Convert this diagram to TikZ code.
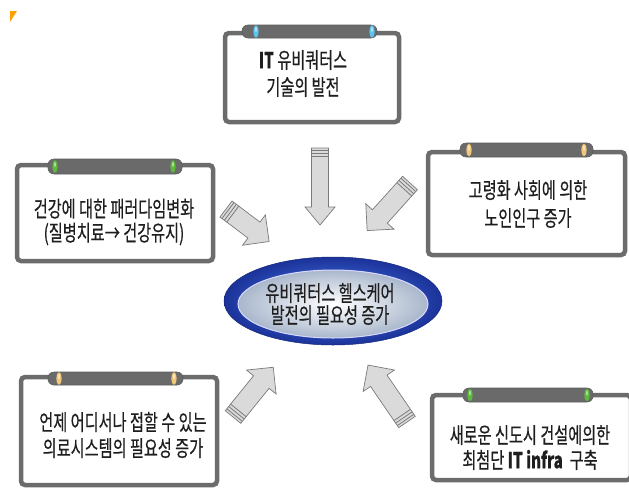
\documentclass[tikz,border=0pt]{standalone}
\usepackage{fontspec}
\newfontfamily\kr[FakeStretch=0.69,FakeBold=0.4]{Noto Sans CJK KR}
\usetikzlibrary{calc,shapes.geometric}
\definecolor{boxgray}{HTML}{6C6C6C}
\definecolor{tabgray}{HTML}{6A6A6A}
\definecolor{capblue}{HTML}{5EC4EE}
\definecolor{capgreen}{HTML}{5DBA3B}
\definecolor{captan}{HTML}{F2C77A}
\definecolor{arrowfill}{HTML}{DADADA}
\definecolor{arrowline}{HTML}{7A7A7A}
\definecolor{ringlight}{HTML}{4F80F2}
\definecolor{ringdark}{HTML}{1B339A}
\definecolor{corelight}{HTML}{FFFFFF}
\definecolor{coredark}{HTML}{A9B7CC}
\definecolor{txt}{HTML}{1E1E1E}
\newcommand\barrow[6]{%
  \begin{scope}[shift={(#1)}, rotate=#2]
    \draw[blockarrow] (0,-#4) -- ({#3-#6},-#4) -- ({#3-#6},-#5) -- (#3,0)
      -- ({#3-#6},#5) -- ({#3-#6},#4) -- (0,#4) -- cycle;
    \foreach \s in {2.5,5.5,8.5} \draw[stripe] (\s,-#4) -- (\s,#4);
  \end{scope}}
\begin{document}
\begin{tikzpicture}[x=1pt,y=-1pt,
  panel/.style={draw=boxgray, line width=4.5pt, rounded corners=4pt, fill=white},
  tabbar/.style={fill=tabgray, draw=boxgray!85!black, line width=0.6pt, rounded corners=6pt},
  label/.style={font=\kr\fontsize{22}{#1}\selectfont, align=center, text=txt, inner sep=0pt},
  blockarrow/.style={fill=arrowfill, draw=arrowline, line width=0.7pt, line join=miter},
  stripe/.style={draw=arrowline, line width=0.8pt}]
\useasboundingbox (0,0) rectangle (629,491);
\fill[orange!75!yellow] (10,11) -- (17,11) -- (10,22) -- cycle;

% panels: name / x1 / y1 / x2 / y2 / tab x1 / tab x2 / tab y1 / tab y2 / cap1 / cap2 / colour
\foreach \n/\a/\b/\c/\d/\e/\f/\g/\h/\p/\q/\col in {
  ptop/225/33/399/122/242/377/25/38/256/372/capblue,
  pleft/17/165/213/261/48/182/159/174/55/173/capgreen,
  pright/428/152/625/255/460/593/143/157/469/584/captan,
  pbl/21/377/217/485/48/183/372/385/59/174/captan,
  pbr/432/395/631/480/463/593/388/402/470/587/capgreen} {
  \draw[panel] (\a,\b) rectangle (\c,\d);
  \node[inner sep=0pt] (\n) at ({(\a+\c)/2},{(\b+\d)/2}) {};
  \draw[tabbar] (\e,\g) rectangle (\f,\h);
  \fill[\col] (\p,{(\g+\h)/2}) ellipse (2.6 and 6.3);
  \fill[\col] (\q,{(\g+\h)/2}) ellipse (2.6 and 6.3);
  \fill[white, opacity=0.5] (\p,{(\g+\h)/2-2}) ellipse (1 and 2.5);
  \fill[white, opacity=0.5] (\q,{(\g+\h)/2-2}) ellipse (1 and 2.5);
}

\node[label=27] (ttop) at (303,73.5) {\textbf{IT} 유비쿼터스\\기술의 발전};
\node[label=24] (tleft) at (114,222) {건강에 대한 패러다임변화\\(질병치료→ 건강유지)};
\node[label=28] (tright) at (528,204) {고령화 사회에 의한\\노인인구 증가};
\node[label=26] (tbl) at (123,435) {언제 어디서나 접할 수 있는\\의료시스템의 필요성 증가};
\node[label=25] (tbr) at (530,447.5) {새로운 신도시 건설에의한\\최첨단 \textbf{IT infra}\ \ 구축};

% centre ellipse
\node[ellipse, minimum width=218pt, minimum height=88pt, inner color=ringlight, outer color=ringdark, draw=ringdark!80!black, line width=0.5pt] (ring) at (333,301) {};
\node[ellipse, minimum width=190pt, minimum height=68pt, inner color=corelight, outer color=coredark, draw=white!85!blue, line width=1pt] (core) at (333,304) {};
\node[label=22] (tcore) at (330,304) {유비쿼터스 헬스케어\\발전의 필요성 증가};

% block arrows
\coordinate (atop) at (320,148);
\coordinate (aul) at (226,209);
\coordinate (aur) at (410,183);
\coordinate (all) at (233,417);
\coordinate (alr) at (407,422);
\barrow{atop}{-90}{77}{8.5}{15}{18}
\barrow{aul}{-37}{54}{10}{19}{19}
\barrow{aur}{-132}{64}{10}{19}{19}
\barrow{all}{51}{64}{10}{19}{19}
\barrow{alr}{124.4}{69}{10}{19}{19}
\end{tikzpicture}
\end{document}
